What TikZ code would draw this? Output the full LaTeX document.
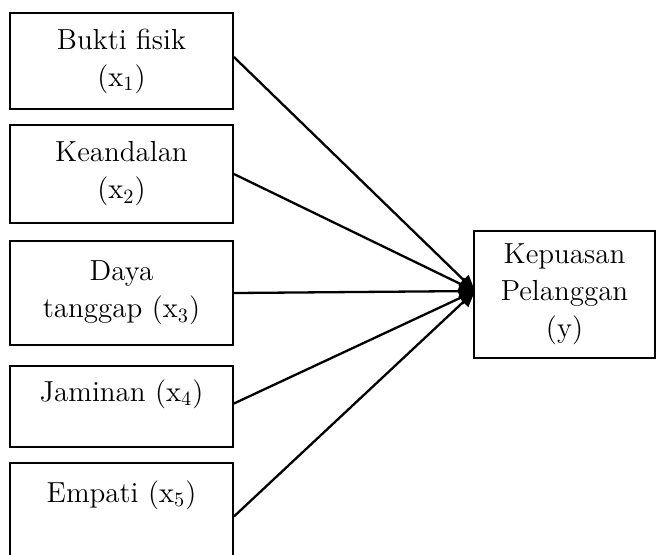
\documentclass[tikz,border=0pt]{standalone}
\usetikzlibrary{arrows.meta}
\tikzset{
  box/.style={draw=black, line width=0.9pt, rectangle, minimum width=111.5pt, align=center, inner sep=0pt,
    font=\fontsize{14.5}{18.5}\selectfont},
  conn/.style={draw=black, line width=1.15pt, -{Triangle[length=8pt,width=7pt]}}
}
\begin{document}
\begin{tikzpicture}[x=0.5pt,y=-0.5pt]
\useasboundingbox (0,0) rectangle (656,554);
\node[box, minimum height=48pt] (b1) at (121.5,61) {Bukti fisik\\(x\textsubscript{1})};
\node[box, minimum height=49pt] (b2) at (121.5,174) {Keandalan\\(x\textsubscript{2})};
\node[box, minimum height=52pt] (b3) at (121.5,293) {Daya\\tanggap (x\textsubscript{3})};
\node[box, minimum height=40.5pt, label={[anchor=north, font=\fontsize{14.5}{18.5}\selectfont, inner sep=0pt, yshift=-7pt]north:Jaminan (x\textsubscript{4})}] (b4) at (121.5,406.5) {};
\node[box, minimum height=53.5pt, label={[anchor=north, font=\fontsize{14.5}{18.5}\selectfont, inner sep=0pt, yshift=-9pt]north:Empati (x\textsubscript{5})}] (b5) at (121.5,516.5) {};
\node[box, minimum width=90.5pt, minimum height=63.5pt] (y) at (564.5,294.5) {Kepuasan\\Pelanggan\\(y)};
\coordinate (tip) at (475,291);
\draw[conn] ([yshift=2pt]b1.east) -- (tip);
\draw[conn] (b2.east) -- (tip);
\draw[conn] (b3.east) -- (tip);
\draw[conn] ([yshift=1.5pt]b4.east) -- (tip);
\draw[conn] (b5.east) -- (tip);
\end{tikzpicture}
\end{document}
